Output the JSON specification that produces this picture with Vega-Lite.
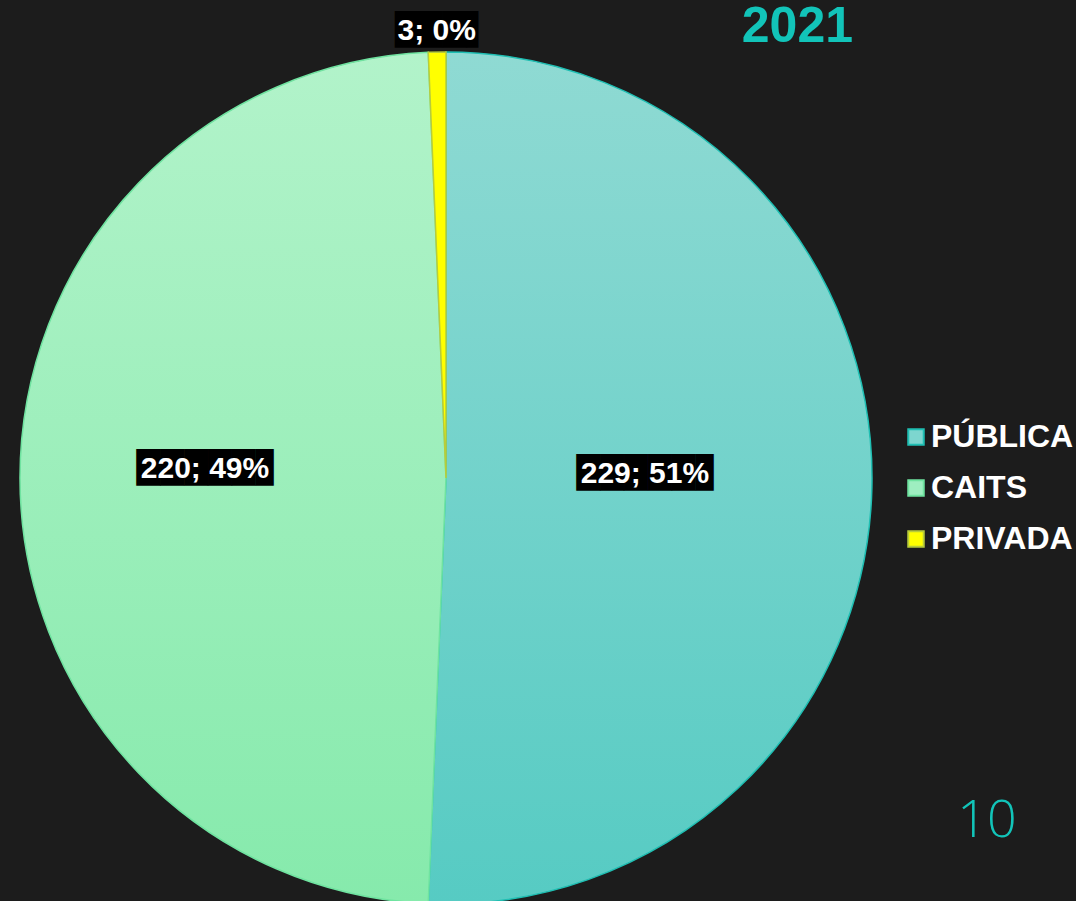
{
  "$schema": "https://vega.github.io/schema/vega-lite/v6.json",
  "width": 852,
  "height": 852,
  "autosize": {"type": "none"},
  "padding": {"left": 20, "top": 52, "right": 204, "bottom": 0},
  "background": "#1c1c1c",
  "config": {"view": {"stroke": null}},
  "title": {
    "text": "2021",
    "anchor": "end",
    "frame": "group",
    "dx": -19,
    "offset": -37,
    "color": "#12c4b9",
    "font": "Liberation Sans",
    "fontSize": 50,
    "fontWeight": "bold"
  },
  "data": {
    "values": [
      {"cat": "PÚBLICA", "value": 229, "label": "229; 51%"},
      {"cat": "CAITS", "value": 220, "label": "220; 49%"},
      {"cat": "PRIVADA", "value": 3, "label": "3; 0%"}
    ]
  },
  "encoding": {
    "theta": {"field": "value", "type": "quantitative", "stack": true},
    "order": {"field": "value", "type": "quantitative", "sort": "descending"}
  },
  "layer": [
    {
      "mark": {"type": "arc", "strokeWidth": 1.5},
      "encoding": {
        "color": {
          "field": "cat",
          "type": "nominal",
          "scale": {"domain": ["PÚBLICA", "CAITS", "PRIVADA"], "range": ["#7dd6cf", "#9eeec0", "#ffff00"]},
          "condition": [
            {"test": "datum.cat === 'PÚBLICA'", "value": {"gradient": "linear", "x1": 0, "y1": 0, "x2": 0, "y2": 1, "stops": [{"offset": 0, "color": "#8fdad3"}, {"offset": 1, "color": "#56cbc3"}]}},
            {"test": "datum.cat === 'CAITS'", "value": {"gradient": "linear", "x1": 0, "y1": 0, "x2": 0, "y2": 1, "stops": [{"offset": 0, "color": "#b2f3ca"}, {"offset": 1, "color": "#86eaac"}]}}
          ],
          "legend": {
            "title": "10",
            "orient": "none",
            "legendX": 880,
            "legendY": 369,
            "direction": "vertical",
            "symbolType": "square",
            "symbolSize": 240,
            "symbolStrokeWidth": 2,
            "labelFont": "Liberation Sans",
            "labelFontSize": 32,
            "labelFontWeight": "bold",
            "labelColor": "white",
            "labelOffset": -1,
            "labelLimit": 300,
            "rowPadding": 19,
            "padding": 0,
            "titleOrient": "bottom",
            "titlePadding": 241,
            "titleFont": "Open Sans",
            "titleFontWeight": 300,
            "titleFontSize": 52,
            "titleColor": "#12c4b9",
            "titleAnchor": "middle"
          }
        },
        "stroke": {
          "field": "cat",
          "type": "nominal",
          "scale": {"domain": ["PÚBLICA", "CAITS", "PRIVADA"], "range": ["#1fbfb3", "#6fe3a0", "#b8cc3a"]}
        }
      }
    },
    {
      "mark": {"type": "text", "radius": 220, "dx": -18, "dy": -9, "font": "DejaVu Sans", "fontSize": 31, "color": "black", "baseline": "middle", "align": "center"},
      "encoding": {
        "detail": {"field": "cat", "type": "nominal"},
        "text": {"condition": {"test": "datum.cat === 'PRIVADA'", "value": ""}, "value": "█████▊"}
      }
    },
    {
      "mark": {"type": "text", "radius": 448, "dx": 6, "dy": 1, "font": "DejaVu Sans", "fontSize": 31, "color": "black", "baseline": "middle", "align": "center"},
      "encoding": {
        "detail": {"field": "cat", "type": "nominal"},
        "text": {"condition": {"test": "datum.cat === 'PRIVADA'", "value": "███▌"}, "value": ""}
      }
    },
    {
      "mark": {"type": "text", "radius": 220, "dx": -21, "dy": -9, "font": "Liberation Sans", "fontSize": 30, "fontWeight": "bold", "color": "white", "baseline": "middle", "align": "center"},
      "encoding": {
        "detail": {"field": "cat", "type": "nominal"},
        "text": {"condition": {"test": "datum.cat === 'PRIVADA'", "value": ""}, "field": "label"}
      }
    },
    {
      "mark": {"type": "text", "radius": 448, "dx": 0, "dy": 1, "font": "Liberation Sans", "fontSize": 30, "fontWeight": "bold", "color": "white", "baseline": "middle", "align": "center"},
      "encoding": {
        "detail": {"field": "cat", "type": "nominal"},
        "text": {"condition": {"test": "datum.cat !== 'PRIVADA'", "value": ""}, "field": "label"}
      }
    }
  ]
}
